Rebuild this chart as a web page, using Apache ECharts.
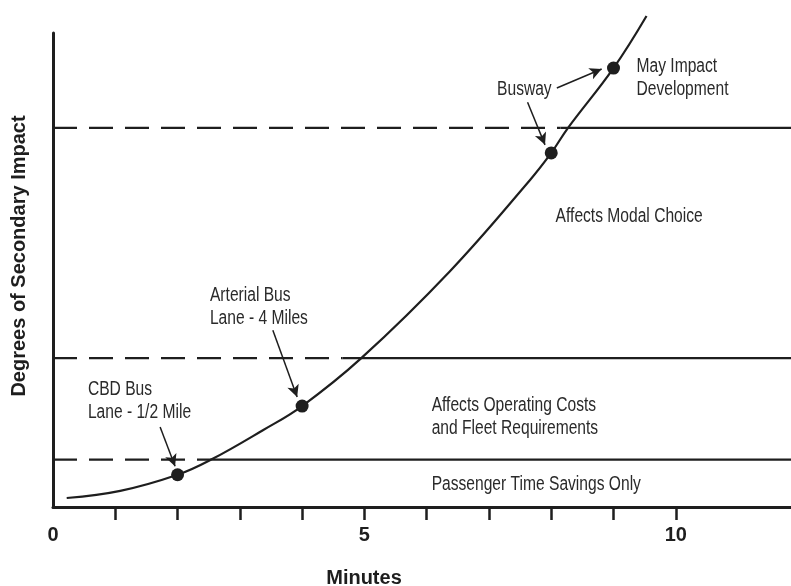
<!DOCTYPE html>
<html>
<head>
<meta charset="utf-8">
<script src="https://cdn.jsdelivr.net/npm/echarts@6/dist/echarts.min.js"></script>
<style>
html,body{margin:0;padding:0;background:#fff;}
#chart{width:791px;height:586px;}
</style>
</head>
<body>
<div id="chart"></div>
<script>
// ---- data ----
const curveX = [0.22, 1.08, 2.0, 2.54, 3.37, 4.0, 4.95, 6.37, 7.66, 8.0, 8.27, 9.0, 9.53];
const curveY = [1.9, 3.4, 6.8, 10.0, 16.2, 21.3, 31.4, 49.7, 69.0, 74.7, 80.0, 92.6, 103.6];

const projectX = [2, 4, 8, 9];
const projectY = [6.8, 21.3, 74.7, 92.6];

const thresholdY = [10, 31.4, 80];
const thresholdSolidFrom = [2.36, 4.65, 8.15];

const regionLabels = ['Passenger Time Savings Only', 'Affects Operating Costs\nand Fleet Requirements', 'Affects Modal Choice', 'May Impact\nDevelopment'];
const regionLabelX = [6.08, 6.08, 8.07, 9.37];
const regionLabelY = [4.8, 18.9, 61.3, 90.6];

const projectLabels = ['CBD Bus\nLane - 1/2 Mile', 'Arterial Bus\nLane - 4 Miles', 'Busway'];
const projectLabelX = [0.56, 2.52, 7.13];
const projectLabelY = [22.4, 42.3, 88.1];

const arrowFromX = [1.72, 3.53, 7.62, 8.09];
const arrowFromY = [16.9, 37.3, 85.4, 88.4];
const arrowToX = [1.96, 3.92, 7.90, 8.81];
const arrowToY = [8.6, 23.2, 76.4, 92.4];

const xTickValues = [1, 2, 3, 4, 5, 6, 7, 8, 9, 10];
const xLabelValues = [0, 5, 10];

const X_MIN = 0, X_MAX = 11.85, Y_MIN = 0, Y_MAX = 100;

// ---- build options ----
const ink = '#1e1e1e';
const textInk = '#2a2a2a';
const bold = "'Liberation Sans',Arial,Helvetica,sans-serif";

const series = [];

thresholdY.forEach((y, i) => {
  series.push({
    type: 'line', silent: true, symbol: 'none', animation: false,
    data: [[X_MIN, y], [thresholdSolidFrom[i], y]],
    lineStyle: { color: ink, width: 2.2, type: [24, 12] }
  });
  series.push({
    type: 'line', silent: true, symbol: 'none', animation: false,
    data: [[thresholdSolidFrom[i], y], [X_MAX, y]],
    lineStyle: { color: ink, width: 2.2, type: 'solid' }
  });
});

series.push({
  type: 'line', silent: true, symbol: 'none', animation: false, clip: false,
  smooth: 0.4,
  data: curveX.map((x, i) => [x, curveY[i]]),
  lineStyle: { color: ink, width: 2.2 },
  markLine: {
    silent: true, animation: false,
    symbol: ['none', 'arrow'], symbolSize: [9, 12],
    label: { show: false },
    lineStyle: { color: ink, width: 1.5, type: 'solid' },
    data: arrowFromX.map((x, i) => [
      { coord: [x, arrowFromY[i]] },
      { coord: [arrowToX[i], arrowToY[i]] }
    ])
  }
});

series.push({
  type: 'scatter', silent: true, animation: false, clip: false,
  symbol: 'circle', symbolSize: 13,
  itemStyle: { color: ink, opacity: 1 },
  data: projectX.map((x, i) => [x, projectY[i]]),
  z: 5
});

const baseGraphic = [
  { type: 'text', x: 364, y: 578, style: { text: 'Minutes', fontFamily: bold, fontWeight: 'bold', fontSize: 20, fill: ink, align: 'center', verticalAlign: 'middle' } },
  { type: 'text', x: 19, y: 256, rotation: Math.PI / 2, style: { text: 'Degrees of Secondary Impact', fontFamily: bold, fontWeight: 'bold', fontSize: 20, fill: ink, align: 'center', verticalAlign: 'middle' } }
];

const option = {
  animation: false,
  backgroundColor: '#fff',
  grid: { left: 53, right: 0, top: 33, bottom: 79, containLabel: false },
  xAxis: {
    type: 'value', min: X_MIN, max: X_MAX,
    axisLine: { show: true, onZero: false, lineStyle: { color: ink, width: 3 } },
    axisTick: { show: true, customValues: xTickValues, length: 13, inside: false, lineStyle: { color: ink, width: 2.5 } },
    axisLabel: { show: true, customValues: xLabelValues, margin: 18, fontFamily: bold, fontWeight: 'bold', fontSize: 20, color: ink },
    splitLine: { show: false }
  },
  yAxis: {
    type: 'value', min: Y_MIN, max: Y_MAX,
    axisLine: { show: true, onZero: false, lineStyle: { color: ink, width: 3 } },
    axisTick: { show: false }, axisLabel: { show: false }, splitLine: { show: false }
  },
  graphic: baseGraphic,
  series: series
};

const chart = echarts.init(document.getElementById('chart'), null, { renderer: 'canvas' });
chart.setOption(option);

// annotation texts: placed through the chart's own scales, drawn condensed
function annotation(xs, ys, texts) {
  return texts.map((t, i) => {
    const p = chart.convertToPixel({ xAxisIndex: 0, yAxisIndex: 0 }, [xs[i], ys[i]]);
    return {
      type: 'text', x: p[0], y: p[1], scaleX: 0.78, silent: true,
      style: { text: t, fontFamily: "'Liberation Sans',Arial,sans-serif", fontSize: 20, lineHeight: 23, fill: textInk, align: 'left', verticalAlign: 'middle' }
    };
  });
}
chart.setOption({
  graphic: baseGraphic
    .concat(annotation(regionLabelX, regionLabelY, regionLabels))
    .concat(annotation(projectLabelX, projectLabelY, projectLabels))
}, { replaceMerge: ['graphic'] });
</script>
</body>
</html>
